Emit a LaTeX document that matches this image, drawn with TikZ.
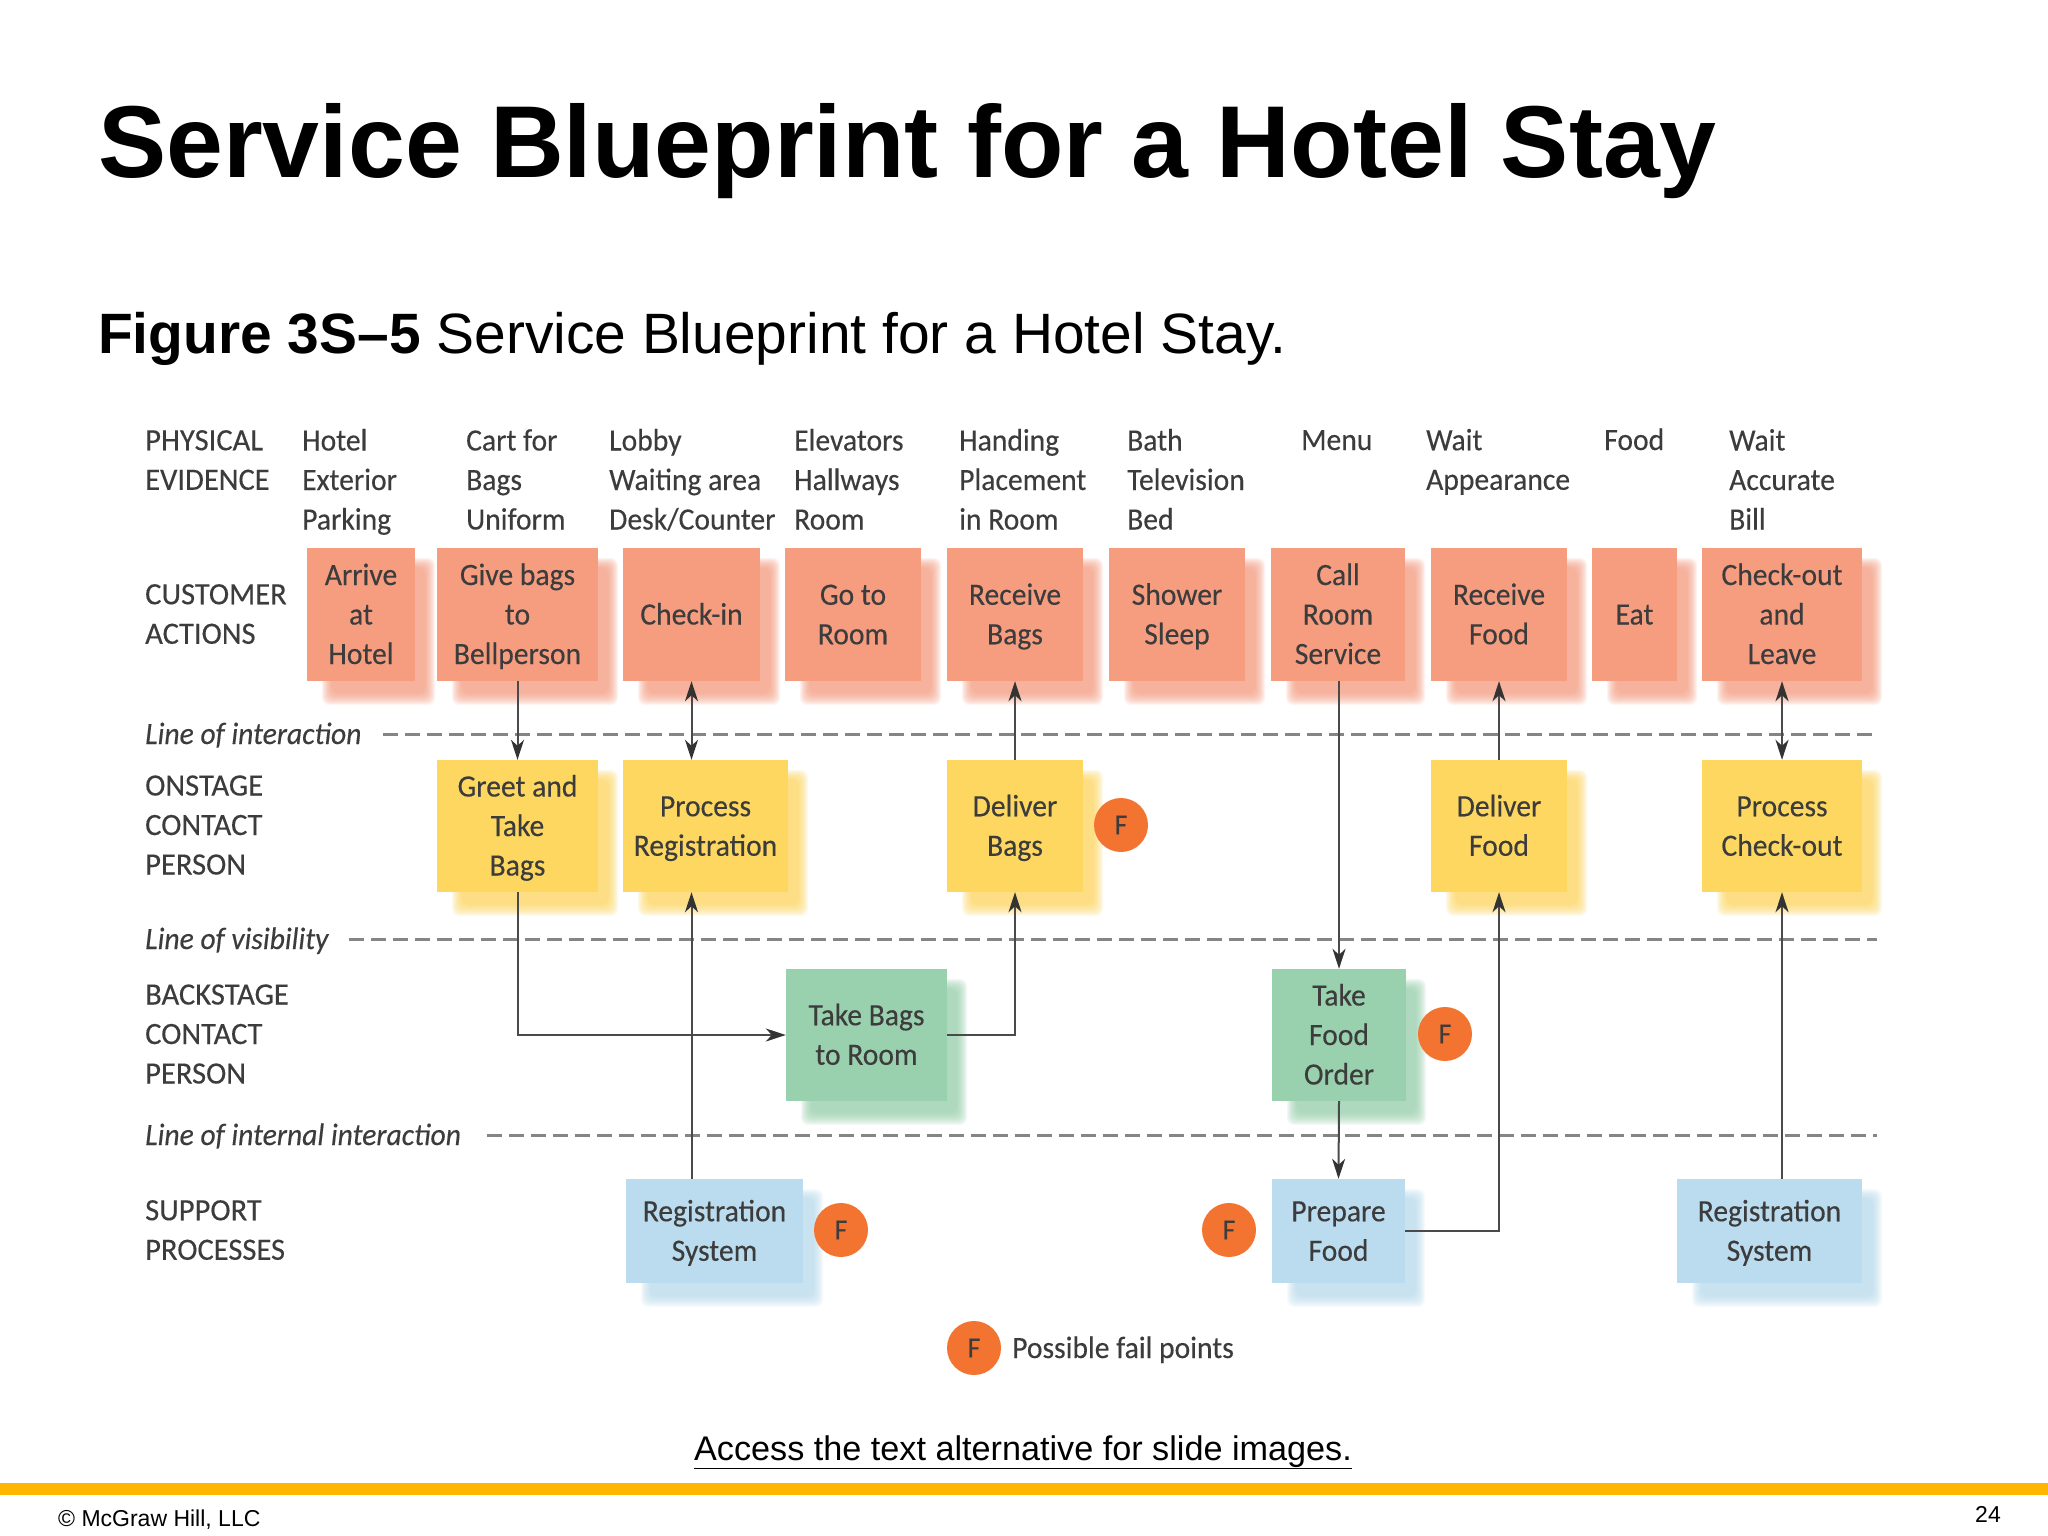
\documentclass[tikz,border=0pt]{standalone}
\usepackage{fontspec}
\setmainfont{Liberation Sans}
\newfontfamily\diag[FakeStretch=0.955,FakeBold=0.25]{Carlito}
\newfontfamily\diagcaps[FakeStretch=0.985,FakeBold=0.25]{Carlito}
\usetikzlibrary{arrows.meta,calc}
\definecolor{salmonbox}{HTML}{F69D80}
\definecolor{yellowbox}{HTML}{FDD75F}
\definecolor{greenbox}{HTML}{99D1AE}
\definecolor{bluebox}{HTML}{BADCEE}
\definecolor{failorange}{HTML}{F37430}
\definecolor{goldbar}{HTML}{FFB600}
\definecolor{dgtext}{HTML}{3C3C3C}
\definecolor{dashgray}{HTML}{858585}
\definecolor{conn}{HTML}{4A4A4A}
\newcommand{\sa}{\rule[-8pt]{0pt}{36pt}}
\tikzset{
  dt/.style={font=\diag\fontsize{31}{39.5}\selectfont,text=dgtext,inner sep=0pt,
    execute at end node=\sa},
  lbl/.style={dt,anchor=west,align=left},
  caps/.style={lbl,font=\diagcaps\fontsize{31}{39.5}\selectfont},
  itl/.style={dt,anchor=west,font=\diag\itshape\fontsize{31}{39.5}\selectfont},
  bx/.style={dt,align=center,anchor=center},
  sbox/.style={bx,fill=salmonbox},
  ybox/.style={bx,fill=yellowbox},
  gbox/.style={bx,fill=greenbox},
  bbox/.style={bx,fill=bluebox},
  softshadow/.style={fill=#1,opacity=.11,rounded corners=7pt},
  fcirc/.style={circle,fill=failorange,minimum size=54pt,inner sep=0pt,font=\diag\fontsize{29}{34}\selectfont,text=dgtext},
  dashline/.style={draw=dashgray,line width=3pt,dash pattern=on 15pt off 7pt},
  cn/.style={draw=conn,line width=2pt,-{Stealth[length=20pt,width=13pt,inset=6pt,color=black!80]}},
  cnb/.style={draw=conn,line width=2pt,{Stealth[length=20pt,width=13pt,inset=6pt,color=black!80]}-{Stealth[length=20pt,width=13pt,inset=6pt,color=black!80]}},
}
% name, style, shadow colour, x1, y1, x2, y2, text
\newcommand{\bxn}[8]{%
  \foreach \k in {0,...,11}{\fill[softshadow=#3] ({#4+15+\k*10/11},{#5+10+\k*10/11}) rectangle ({#6+20-\k*10/11},{#7+24-\k*12/11});}
  \node[#2,minimum width={#6-#4},minimum height={#7-#5}] (#1) at ({(#4+#6)/2},{(#5+#7)/2}) {\sa #8};}
\begin{document}
\begin{tikzpicture}[x=1pt,y=-1pt]
\useasboundingbox (0,0) rectangle (2048,1536);
\fill[white] (0,0) rectangle (2048,1536);
% heading
\node[anchor=base west,inner sep=0pt,font=\bfseries\fontsize{102.2}{110}\selectfont] (title) at (98,178) {Service Blueprint for a Hotel Stay};
\node[anchor=base west,inner sep=0pt,font=\fontsize{56.9}{64}\selectfont] (sub) at (98,353) {\textbf{Figure 3S–5} Service Blueprint for a Hotel Stay.};
% row labels
\node[caps] (l1) at (145,460) {\sa PHYSICAL\\EVIDENCE};
\node[caps] (l2) at (145,614) {\sa CUSTOMER\\ACTIONS};
\node[caps] (l3) at (145,825) {\sa ONSTAGE\\CONTACT\\PERSON};
\node[caps] (l4) at (145,1034) {\sa BACKSTAGE\\CONTACT\\PERSON};
\node[caps] (l5) at (145,1230) {\sa SUPPORT\\PROCESSES};
% physical evidence
\node[lbl] (p1) at (302,480) {\sa Hotel\\Exterior\\Parking};
\node[lbl] (p2) at (466,480) {\sa Cart for\\Bags\\Uniform};
\node[lbl] (p3) at (609,480) {\sa Lobby\\Waiting area\\Desk/Counter};
\node[lbl] (p4) at (794,480) {\sa Elevators\\Hallways\\Room};
\node[lbl] (p5) at (959,480) {\sa Handing\\Placement\\in Room};
\node[lbl] (p6) at (1127,480) {\sa Bath\\Television\\Bed};
\node[lbl] (p7) at (1301,440) {\sa Menu};
\node[lbl] (p8) at (1426,460) {\sa Wait\\Appearance};
\node[lbl] (p9) at (1604,440) {\sa Food};
\node[lbl] (p10) at (1729,480) {\sa Wait\\Accurate\\Bill};
% dashed lines
\node[itl] (li1) at (145,734) {\sa Line of interaction};
\coordinate (d1a) at (383,734); \coordinate (d1b) at (1873,734);
\draw[dashline] (d1a) -- (d1b);
\node[itl] (li2) at (145,939) {\sa Line of visibility};
\coordinate (d2a) at (349,939); \coordinate (d2b) at (1877,939);
\draw[dashline] (d2a) -- (d2b);
\node[itl] (li3) at (145,1135) {\sa Line of internal interaction};
\coordinate (d3a) at (487,1135); \coordinate (d3b) at (1877,1135);
\draw[dashline] (d3a) -- (d3b);
% customer actions
\bxn{c1}{sbox}{salmonbox}{307}{548}{415}{681}{Arrive\\at\\Hotel}
\bxn{c2}{sbox}{salmonbox}{437}{548}{598}{681}{Give bags\\to\\Bellperson}
\bxn{c3}{sbox}{salmonbox}{623}{548}{760}{681}{Check-in}
\bxn{c4}{sbox}{salmonbox}{785}{548}{921}{681}{Go to\\Room}
\bxn{c5}{sbox}{salmonbox}{947}{548}{1083}{681}{Receive\\Bags}
\bxn{c6}{sbox}{salmonbox}{1109}{548}{1245}{681}{Shower\\Sleep}
\bxn{c7}{sbox}{salmonbox}{1271}{548}{1405}{681}{Call\\Room\\Service}
\bxn{c8}{sbox}{salmonbox}{1431}{548}{1567}{681}{Receive\\Food}
\bxn{c9}{sbox}{salmonbox}{1592}{548}{1677}{681}{Eat}
\bxn{c10}{sbox}{salmonbox}{1702}{548}{1862}{681}{Check-out\\and\\Leave}
% onstage
\bxn{o1}{ybox}{yellowbox}{437}{760}{598}{892}{Greet and\\Take\\Bags}
\bxn{o2}{ybox}{yellowbox}{623}{760}{788}{892}{Process\\Registration}
\bxn{o3}{ybox}{yellowbox}{947}{760}{1083}{892}{Deliver\\Bags}
\bxn{o4}{ybox}{yellowbox}{1431}{760}{1567}{892}{Deliver\\Food}
\bxn{o5}{ybox}{yellowbox}{1702}{760}{1862}{892}{Process\\Check-out}
% backstage
\bxn{b1}{gbox}{greenbox}{786}{969}{947}{1101}{Take Bags\\to Room}
\bxn{b2}{gbox}{greenbox}{1272}{969}{1406}{1101}{Take\\Food\\Order}
% support
\bxn{s1}{bbox}{bluebox}{626}{1179}{803}{1283}{Registration\\System}
\bxn{s2}{bbox}{bluebox}{1272}{1179}{1405}{1283}{Prepare\\Food}
\bxn{s3}{bbox}{bluebox}{1677}{1179}{1862}{1283}{Registration\\System}
% fail points
\node[fcirc] (f1) at (1121,825) {F};
\node[fcirc] (f2) at (1445,1034) {F};
\node[fcirc] (f3) at (841,1230) {F};
\node[fcirc] (f4) at (1229,1230) {F};
\node[fcirc] (f5) at (974,1348) {F};
\node[lbl] (fl) at (1012,1348) {\sa Possible fail points};
% connectors
\draw[cn] (c2.south) -- (o1.north);
\draw[cnb] (c3.south) -- (c3.south |- o2.north);
\draw[cn] (o3.north) -- (c5.south);
\draw[cn] (o4.north) -- (c8.south);
\draw[cnb] (c10.south) -- (o5.north);
\draw[cn] (c7.south -| b2.north) -- (b2.north);
\draw[cn] (o1.south) |- (b1.west);
\draw[cn] (b1.east) -| (o3.south);
\draw[cn] (s1.north -| c3.south) -- (c3.south |- o2.south);
\draw[cn] (b2.south) -- (s2.north);
\draw[cn] (s2.east) -| (o4.south);
\draw[cn] (s3.north -| o5.south) -- (o5.south);
% footer
\node[anchor=base,inner sep=0pt,font=\fontsize{34.2}{38}\selectfont] (acc) at (1023,1460) {\underline{Access the text alternative for slide images.}};
\fill[goldbar] (0,1483) rectangle (2048,1495);
\node[anchor=base west,inner sep=0pt,font=\fontsize{23}{27}\selectfont] (copy) at (58,1526) {© McGraw Hill, LLC};
\node[anchor=base east,inner sep=0pt,font=\fontsize{23}{27}\selectfont] (pg) at (2001,1522) {24};
\end{tikzpicture}
\end{document}
